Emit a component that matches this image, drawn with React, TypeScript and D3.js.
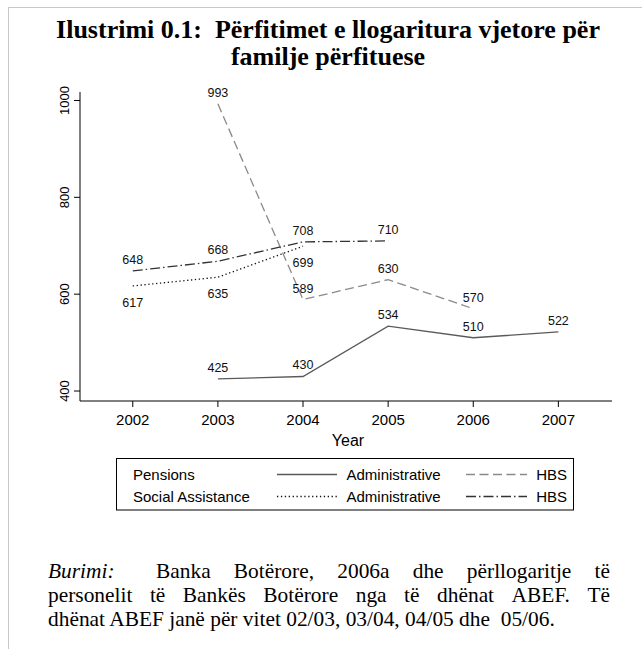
import React from "react";
import * as d3 from "d3";

// values
const pensionsAdminYears = [2003, 2004, 2005, 2006, 2007];
const pensionsAdminValues = [425, 430, 534, 510, 522];
const pensionsHbsYears = [2003, 2004, 2005, 2006];
const pensionsHbsValues = [993, 589, 630, 570];
const socialAdminYears = [2002, 2003, 2004];
const socialAdminValues = [617, 635, 699];
const socialHbsYears = [2002, 2003, 2004, 2005];
const socialHbsValues = [648, 668, 708, 710];

const xTicks = [2002, 2003, 2004, 2005, 2006, 2007];
const yTicks = [400, 600, 800, 1000];

const titleLines = [
  "Ilustrimi 0.1:  Përfitimet e llogaritura vjetore për",
  "familje përfituese",
];
const footerLines = [
  ["Banka", "Botërore,", "2006a", "dhe", "përllogaritje", "të"],
  ["personelit", "të", "Bankës", "Botërore", "nga", "të", "dhënat", "ABEF.", "Të"],
];
const footerLast = "dhënat ABEF janë për vitet 02/03, 03/04, 04/05 dhe  05/06.";

const series = [
  { name: "pa", years: pensionsAdminYears, values: pensionsAdminValues, stroke: "#5a5a5a", dash: null, below: false },
  { name: "ph", years: pensionsHbsYears, values: pensionsHbsValues, stroke: "#8a8a8a", dash: "9,4.5", below: false },
  { name: "sa", years: socialAdminYears, values: socialAdminValues, stroke: "#111", dash: "1.3,2.6", below: true },
  { name: "sh", years: socialHbsYears, values: socialHbsValues, stroke: "#333", dash: "10,3,1.5,3", below: false },
];

const W = 642;
const H = 649;
const sans = "'Liberation Sans', Arial, sans-serif";
const serif = "'Liberation Serif', 'Times New Roman', serif";

let ctx: CanvasRenderingContext2D | null = null;
function measure(text: string, font: string) {
  if (!ctx) ctx = document.createElement("canvas").getContext("2d");
  if (!ctx) return text.length * 8;
  ctx.font = font;
  return ctx.measureText(text).width;
}

// spread words between x0 and x1, like justified text
function justify(words: string[], x0: number, x1: number, font: string) {
  const widths = words.map((w) => measure(w, font));
  const total = d3.sum(widths);
  const gap = (x1 - x0 - total) / (words.length - 1);
  let x = x0;
  return words.map((w, i) => {
    const pos = x;
    x += widths[i] + gap;
    return { w, x: pos };
  });
}

export default function App() {
  const x = d3.scaleLinear().domain([2001.38, 2007.63]).range([80, 612]);
  const y = d3.scaleLinear().domain([379.4, 1017.5]).range([401, 92]);
  const line = d3
    .line<[number, number]>()
    .x((d) => x(d[0]))
    .y((d) => y(d[1]));

  const footSize = 21.4;
  const footFont = `${footSize}px ${serif}`;
  const row1 = justify(footerLines[0], 156, 610, footFont);
  const row2 = justify(footerLines[1], 48, 610, footFont);

  const xr = x.range();
  const yr = y.range();

  return (
    <svg
      width={W}
      height={H}
      style={{ position: "absolute", left: 0, top: 0, background: "#fff" }}
    >
      <rect width={W} height={H} fill="#fff" />
      <line x1={8} y1={7.5} x2={W} y2={7.5} stroke="#c8c8c8" />
      <line x1={8.5} y1={7} x2={8.5} y2={H} stroke="#c8c8c8" />

      {titleLines.map((t, i) => (
        <text
          key={i}
          x={328}
          y={38 + i * 27}
          textAnchor="middle"
          fontFamily={serif}
          fontWeight="bold"
          fontSize={26}
          style={{ whiteSpace: "pre" }}
        >
          {t}
        </text>
      ))}

      {/* axes */}
      <line x1={xr[0]} y1={yr[0]} x2={xr[1]} y2={yr[0]} stroke="#000" />
      <line x1={xr[0]} y1={yr[0]} x2={xr[0]} y2={yr[1]} stroke="#000" />
      {xTicks.map((t) => (
        <g key={t} transform={`translate(${x(t)},${yr[0]})`}>
          <line y2={6} stroke="#000" />
          <text y={24} textAnchor="middle" fontFamily={sans} fontSize={15}>
            {t}
          </text>
        </g>
      ))}
      {yTicks.map((t) => (
        <g key={t} transform={`translate(${xr[0]},${y(t)})`}>
          <line x2={-6} stroke="#000" />
          <text
            transform="translate(-11,0) rotate(-90)"
            textAnchor="middle"
            fontFamily={sans}
            fontSize={13}
          >
            {t}
          </text>
        </g>
      ))}
      <text x={348} y={446} textAnchor="middle" fontFamily={sans} fontSize={16}>
        Year
      </text>

      {/* series */}
      {series.map((s) => {
        const pts = s.years.map((yr2, i) => [yr2, s.values[i]] as [number, number]);
        return (
          <g key={s.name}>
            <path
              d={line(pts) ?? ""}
              fill="none"
              stroke={s.stroke}
              strokeWidth={1.3}
              strokeDasharray={s.dash ?? undefined}
            />
            {pts.map((p, i) => (
              <text
                key={i}
                x={x(p[0])}
                y={y(p[1]) + (s.below ? 21 : -7)}
                textAnchor="middle"
                fontFamily={sans}
                fontSize={12.5}
                fill="#111"
              >
                {p[1]}
              </text>
            ))}
          </g>
        );
      })}

      {/* legend */}
      <rect x={116.5} y={458.5} width={457} height={51.5} fill="none" stroke="#000" />
      {[
        { label: "Pensions", a: series[0], b: series[1], yy: 480 },
        { label: "Social Assistance", a: series[2], b: series[3], yy: 502 },
      ].map((r) => (
        <g key={r.label} fontFamily={sans} fontSize={15}>
          <text x={133} y={r.yy}>{r.label}</text>
          <line
            x1={277}
            x2={337}
            y1={r.yy - 5.5}
            y2={r.yy - 5.5}
            stroke={r.a.stroke}
            strokeWidth={1.3}
            strokeDasharray={r.a.dash ?? undefined}
          />
          <text x={346.5} y={r.yy}>Administrative</text>
          <line
            x1={466}
            x2={527}
            y1={r.yy - 5.5}
            y2={r.yy - 5.5}
            stroke={r.b.stroke}
            strokeWidth={1.3}
            strokeDasharray={r.b.dash ?? undefined}
          />
          <text x={567} y={r.yy} textAnchor="end">HBS</text>
        </g>
      ))}

      {/* source note */}
      <g fontFamily={serif} fontSize={footSize}>
        <text x={48} y={578} fontStyle="italic">Burimi:</text>
        {row1.map((d, i) => (
          <text key={i} x={d.x} y={578}>{d.w}</text>
        ))}
        {row2.map((d, i) => (
          <text key={i} x={d.x} y={602}>{d.w}</text>
        ))}
        <text x={48} y={626} style={{ whiteSpace: "pre" }}>{footerLast}</text>
      </g>
    </svg>
  );
}
